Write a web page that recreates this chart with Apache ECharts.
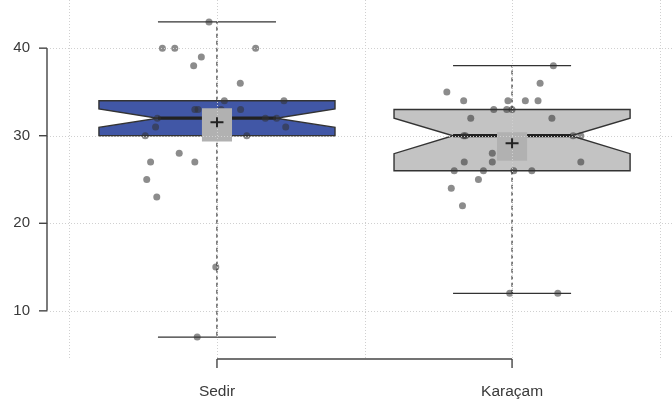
<!DOCTYPE html>
<html><head><meta charset="utf-8">
<script src="https://cdn.jsdelivr.net/npm/echarts@6/dist/echarts.min.js"></script>
<style>html,body{margin:0;padding:0;background:#fff}#chart{width:672px;height:407px}</style>
</head><body><div id="chart"></div>
<script>
// ---- data ----
const categories = ['Sedir', 'Karaçam'];
const yTicks = [10, 20, 30, 40];
const xGridValues = [0.5, 1, 1.5, 2, 2.5];
const whiskerLow = [7, 12];
const q1 = [30, 26];
const median = [32, 30];
const q3 = [34, 33];
const whiskerHigh = [43, 38];
const notchLow = [30.95, 27.95];
const notchHigh = [33.05, 32];
const meanValues = [31.54, 29.14];
const meanCILow = [29.33, 27.15];
const meanCIHigh = [33.14, 30.4];
const sedirValues = [43, 40, 40, 40, 39, 38, 36, 34, 34, 33, 33, 33, 33, 32, 32, 32, 31, 31, 30, 30, 28, 27, 27, 25, 23, 15, 7];
const sedirJitter = [-0.027, -0.185, -0.143, 0.131, -0.053, -0.079, 0.079, 0.025, 0.227, -0.075, -0.064, 0.014, 0.080, -0.202, 0.164, 0.202, -0.208, 0.233, -0.243, 0.101, -0.128, -0.225, -0.075, -0.238, -0.204, -0.004, -0.067];
const karacamValues = [38, 36, 35, 34, 34, 34, 34, 33, 33, 33, 32, 32, 30, 30, 30, 30, 28, 27, 27, 27, 26, 26, 26, 26, 25, 24, 22, 12, 12];
const karacamJitter = [0.140, 0.095, -0.221, -0.164, -0.014, 0.045, 0.088, -0.062, -0.018, 0.000, -0.140, 0.135, -0.164, -0.158, 0.207, 0.233, -0.067, -0.162, -0.067, 0.233, -0.196, -0.097, 0.006, 0.067, -0.114, -0.206, -0.168, -0.008, 0.155];

// ---- styling ----
const boxFill = ['#4157A6', '#C3C3C3'];
const BOX_HALF = 0.4, CAP_HALF = 0.2, MEAN_HALF = 0.051;
const FONT = '"Liberation Sans", Arial, sans-serif';

const pointData = [];
sedirValues.forEach((v, k) => pointData.push([1 + sedirJitter[k], v]));
karacamValues.forEach((v, k) => pointData.push([2 + karacamJitter[k], v]));
const catData = categories.map((c, i) => [i + 1, median[i]]);

function line(p1, p2, style) {
  return { type: 'line', shape: { x1: p1[0], y1: p1[1], x2: p2[0], y2: p2[1] }, style: style };
}

function renderBox(params, api) {
  const i = params.dataIndex, c = i + 1, w = BOX_HALF;
  const pts = [[c - w, q3[i]], [c + w, q3[i]], [c + w, notchHigh[i]], [c + w / 2, median[i]], [c + w, notchLow[i]],
    [c + w, q1[i]], [c - w, q1[i]], [c - w, notchLow[i]], [c - w / 2, median[i]], [c - w, notchHigh[i]]].map(p => api.coord(p));
  const dash = { stroke: '#333', lineWidth: 1.2, lineDash: [4, 3] };
  const solid = { stroke: '#333', lineWidth: 1.3 };
  return { type: 'group', children: [
    line(api.coord([c, q3[i]]), api.coord([c, whiskerHigh[i]]), dash),
    line(api.coord([c, q1[i]]), api.coord([c, whiskerLow[i]]), dash),
    line(api.coord([c - CAP_HALF, whiskerHigh[i]]), api.coord([c + CAP_HALF, whiskerHigh[i]]), solid),
    line(api.coord([c - CAP_HALF, whiskerLow[i]]), api.coord([c + CAP_HALF, whiskerLow[i]]), solid),
    { type: 'polygon', shape: { points: pts }, style: { fill: boxFill[i], stroke: '#333', lineWidth: 1.4 } },
    line(api.coord([c - w / 2, median[i]]), api.coord([c + w / 2, median[i]]), { stroke: '#222', lineWidth: 3.2 })
  ]};
}

function renderMeanBox(params, api) {
  const i = params.dataIndex, c = i + 1;
  const a = api.coord([c - MEAN_HALF, meanCIHigh[i]]), b = api.coord([c + MEAN_HALF, meanCILow[i]]);
  return { type: 'rect', shape: { x: a[0], y: a[1], width: b[0] - a[0], height: b[1] - a[1] }, style: { fill: '#B1B1B1' } };
}

function renderCross(params, api) {
  const i = params.dataIndex, c = i + 1;
  const p = api.coord([c, meanValues[i]]);
  const st = { stroke: '#222', lineWidth: 2 };
  return { type: 'group', children: [
    line([p[0] - 6.5, p[1]], [p[0] + 6.5, p[1]], st),
    line([p[0], p[1] - 5], [p[0], p[1] + 5], st)
  ]};
}

function renderGrid(params, api) {
  const cs = params.coordSys;
  const st = { stroke: '#D0D0D0', lineWidth: 1, lineDash: [1, 2] };
  const ch = [];
  yTicks.forEach(v => {
    const y = Math.round(api.coord([1, v])[1]) + 0.5;
    ch.push(line([cs.x, y], [cs.x + cs.width, y], st));
  });
  xGridValues.forEach(v => {
    const x = Math.round(api.coord([v, 25])[0]) + 0.5;
    ch.push(line([x, cs.y], [x, cs.y + cs.height], st));
  });
  return { type: 'group', children: ch };
}

function renderAxes(params, api) {
  const cs = params.coordSys;
  const ch = [];
  const ax = { stroke: '#444', lineWidth: 1.4 };
  const xl = cs.x;
  const yA = api.coord([1, yTicks[0]])[1], yB = api.coord([1, yTicks[yTicks.length - 1]])[1];
  ch.push(line([xl, yA], [xl, yB], ax));
  yTicks.forEach(v => {
    const y = api.coord([1, v])[1];
    ch.push(line([xl - 8, y], [xl, y], ax));
    ch.push({ type: 'text', x: xl - 17, y: y, style: { text: String(v), fill: '#3A3A3A', fontSize: 15, fontFamily: FONT, align: 'right', verticalAlign: 'middle' } });
  });
  const yb = cs.y + cs.height;
  const x1 = api.coord([1, 25])[0], x2 = api.coord([categories.length, 25])[0];
  ch.push(line([x1, yb], [x2, yb], ax));
  categories.forEach((c, i) => {
    const x = api.coord([i + 1, 25])[0];
    ch.push(line([x, yb], [x, yb + 9], ax));
    ch.push({ type: 'text', x: x, y: yb + 32.5, style: { text: c, fill: '#3A3A3A', fontSize: 15.5, fontFamily: FONT, align: 'center', verticalAlign: 'middle' } });
  });
  return { type: 'group', children: ch };
}

const chart = echarts.init(document.getElementById('chart'), null, { renderer: 'canvas' });
chart.setOption({
  animation: false,
  backgroundColor: '#fff',
  grid: { left: 47, right: 0, top: 0, bottom: 48 },
  xAxis: { type: 'value', min: 0.424, max: 2.542, show: false },
  yAxis: { type: 'value', min: 4.5, max: 45.5, show: false },
  series: [
    { type: 'custom', z: 1, clip: false, data: catData, renderItem: renderBox },
    { type: 'scatter', z: 2, data: pointData, symbol: 'circle', symbolSize: 7, itemStyle: { color: 'rgba(50,50,50,0.7)' } },
    { type: 'custom', z: 3, clip: false, data: catData, renderItem: renderMeanBox },
    { type: 'custom', z: 4, clip: false, data: [[1, 25]], renderItem: renderGrid },
    { type: 'custom', z: 5, clip: false, data: catData, renderItem: renderCross },
    { type: 'custom', z: 6, clip: false, data: [[1, 25]], renderItem: renderAxes }
  ]
});
</script></body></html>
